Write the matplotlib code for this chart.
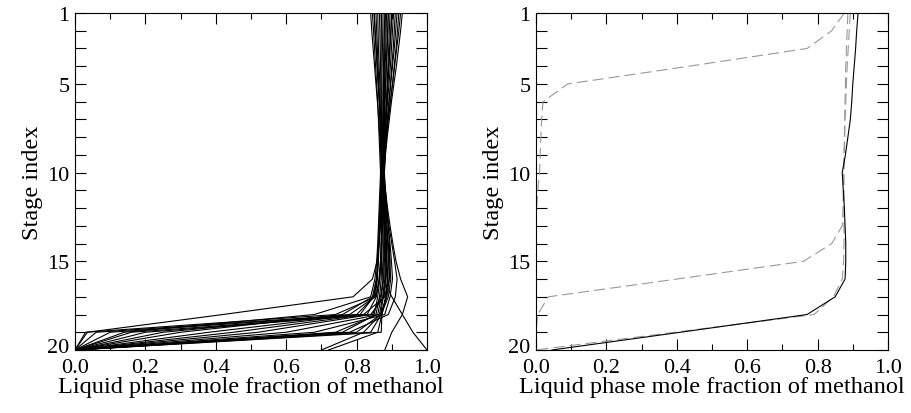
import matplotlib
matplotlib.use("Agg")
import matplotlib.pyplot as plt
from matplotlib.ticker import MultipleLocator, FixedLocator
from matplotlib.transforms import ScaledTranslation

plt.rcParams['font.family'] = ['Liberation Serif', 'DejaVu Serif']

stages = list(range(1, 21))

# ---- left panel: liquid methanol profiles (one list per profile, stages 1..20)
left_profiles = [
    [0.860, 0.861, 0.862, 0.864, 0.866, 0.867, 0.868, 0.869, 0.870, 0.871, 0.871, 0.870, 0.868, 0.864, 0.858, 0.845, 0.790, 0.420, 0.035, 0.000],
    [0.845, 0.848, 0.851, 0.854, 0.857, 0.860, 0.862, 0.864, 0.866, 0.868, 0.866, 0.864, 0.862, 0.860, 0.857, 0.852, 0.840, 0.680, 0.140, 0.000],
    [0.870, 0.870, 0.870, 0.870, 0.870, 0.870, 0.870, 0.870, 0.870, 0.870, 0.868, 0.866, 0.864, 0.862, 0.860, 0.856, 0.845, 0.760, 0.300, 0.000],
    [0.890, 0.888, 0.886, 0.884, 0.882, 0.880, 0.878, 0.876, 0.874, 0.872, 0.870, 0.868, 0.866, 0.864, 0.862, 0.858, 0.850, 0.800, 0.060, 0.000],
    [0.905, 0.902, 0.899, 0.896, 0.892, 0.888, 0.884, 0.880, 0.876, 0.872, 0.872, 0.872, 0.871, 0.870, 0.868, 0.864, 0.856, 0.830, 0.450, 0.000],
    [0.920, 0.916, 0.912, 0.907, 0.902, 0.896, 0.890, 0.885, 0.880, 0.876, 0.875, 0.874, 0.873, 0.872, 0.870, 0.866, 0.860, 0.850, 0.200, 0.000],
    [0.850, 0.852, 0.855, 0.858, 0.861, 0.864, 0.866, 0.868, 0.870, 0.872, 0.874, 0.876, 0.878, 0.879, 0.879, 0.877, 0.870, 0.860, 0.740, 0.000],
    [0.865, 0.866, 0.867, 0.868, 0.869, 0.870, 0.871, 0.872, 0.873, 0.874, 0.876, 0.878, 0.880, 0.882, 0.882, 0.880, 0.874, 0.865, 0.600, 0.000],
    [0.880, 0.879, 0.878, 0.877, 0.876, 0.875, 0.875, 0.875, 0.875, 0.875, 0.877, 0.879, 0.881, 0.883, 0.884, 0.882, 0.876, 0.868, 0.800, 0.000],
    [0.895, 0.893, 0.891, 0.889, 0.887, 0.885, 0.883, 0.881, 0.879, 0.877, 0.879, 0.881, 0.883, 0.885, 0.886, 0.884, 0.878, 0.840, 0.520, 0.000],
    [0.910, 0.907, 0.904, 0.900, 0.896, 0.892, 0.888, 0.884, 0.881, 0.878, 0.880, 0.883, 0.886, 0.889, 0.890, 0.888, 0.882, 0.872, 0.860, 0.720],
    [0.930, 0.925, 0.919, 0.913, 0.906, 0.899, 0.893, 0.887, 0.882, 0.879, 0.882, 0.886, 0.890, 0.893, 0.895, 0.893, 0.886, 0.868, 0.820, 0.700],
    [0.855, 0.857, 0.859, 0.861, 0.863, 0.865, 0.867, 0.869, 0.871, 0.873, 0.876, 0.880, 0.884, 0.888, 0.891, 0.893, 0.880, 0.820, 0.100, 0.000],
    [0.875, 0.875, 0.875, 0.875, 0.875, 0.875, 0.875, 0.875, 0.875, 0.875, 0.878, 0.882, 0.886, 0.890, 0.894, 0.897, 0.890, 0.870, 0.840, 0.000],
    [0.900, 0.897, 0.894, 0.891, 0.888, 0.885, 0.882, 0.879, 0.877, 0.876, 0.880, 0.885, 0.890, 0.895, 0.899, 0.902, 0.895, 0.880, 0.680, 0.000],
    [0.840, 0.843, 0.847, 0.851, 0.855, 0.859, 0.863, 0.866, 0.869, 0.871, 0.869, 0.867, 0.865, 0.863, 0.861, 0.859, 0.853, 0.780, 0.250, 0.000],
    [0.915, 0.911, 0.907, 0.902, 0.897, 0.892, 0.887, 0.882, 0.878, 0.875, 0.872, 0.869, 0.866, 0.863, 0.860, 0.857, 0.848, 0.810, 0.380, 0.000],
    [0.885, 0.884, 0.883, 0.881, 0.879, 0.877, 0.875, 0.873, 0.871, 0.869, 0.871, 0.874, 0.878, 0.882, 0.886, 0.889, 0.884, 0.872, 0.870, 0.000],
    [0.870, 0.872, 0.874, 0.876, 0.878, 0.879, 0.880, 0.880, 0.879, 0.877, 0.880, 0.885, 0.892, 0.900, 0.908, 0.915, 0.910, 0.890, 0.780, 0.000],
    [0.925, 0.920, 0.914, 0.908, 0.902, 0.896, 0.890, 0.885, 0.881, 0.878, 0.876, 0.874, 0.872, 0.870, 0.872, 0.875, 0.900, 0.930, 0.960, 1.000],
    [0.850, 0.853, 0.856, 0.859, 0.862, 0.865, 0.868, 0.871, 0.874, 0.877, 0.882, 0.888, 0.895, 0.903, 0.912, 0.925, 0.945, 0.930, 0.900, 0.880],
    [0.890, 0.889, 0.887, 0.885, 0.883, 0.881, 0.879, 0.877, 0.875, 0.874, 0.873, 0.872, 0.871, 0.870, 0.868, 0.864, 0.855, 0.740, 0.030, 0.000],
    [0.882, 0.881, 0.880, 0.879, 0.878, 0.877, 0.876, 0.875, 0.874, 0.873, 0.873, 0.873, 0.872, 0.872, 0.871, 0.870, 0.865, 0.855, 0.760, 0.000],
    [0.900, 0.898, 0.895, 0.892, 0.889, 0.886, 0.883, 0.880, 0.877, 0.874, 0.874, 0.875, 0.875, 0.876, 0.876, 0.875, 0.868, 0.845, 0.160, 0.000],
]

# ---- right panel
right_solid = [0.915, 0.911, 0.908, 0.904, 0.900, 0.897, 0.893, 0.886, 0.879, 0.870, 0.873, 0.876, 0.878, 0.880, 0.880, 0.878, 0.850, 0.770, 0.410, 0.045]
right_dashed = [
    [0.876, 0.840, 0.770, 0.435, 0.090, 0.020, 0.016, 0.014, 0.012, 0.010, 0.005, 0.002, 0.000, 0.000, 0.000, 0.000, 0.000, 0.000, 0.000, 0.000],
    [0.886, 0.884, 0.882, 0.880, 0.879, 0.878, 0.877, 0.876, 0.875, 0.873, 0.873, 0.872, 0.870, 0.840, 0.760, 0.400, 0.035, 0.005, 0.000, 0.000],
    [0.893, 0.890, 0.887, 0.884, 0.882, 0.880, 0.878, 0.877, 0.876, 0.875, 0.875, 0.875, 0.875, 0.875, 0.874, 0.870, 0.845, 0.790, 0.395, 0.000],
]

x_ticks = [0.0, 0.2, 0.4, 0.6, 0.8, 1.0]
x_ticklabels = ["0.0", "0.2", "0.4", "0.6", "0.8", "1.0"]
y_ticks = [1, 5, 10, 15, 20]
y_ticklabels = ["1", "5", "10", "15", "20"]
xlabel = "Liquid phase mole fraction of methanol"
ylabel = "Stage index"

fig = plt.figure(figsize=(9.12, 4.14), dpi=100)
axL = fig.add_axes([75/912, 63/414, 352/912, 337/414])
axR = fig.add_axes([536/912, 63/414, 352/912, 337/414])

for prof in left_profiles:
    axL.plot(prof, stages, color='black', lw=0.8)

for prof in right_dashed:
    axR.plot(prof, stages, color='#999999', lw=0.8, dashes=(10, 4.5))
axR.plot(right_solid, stages, color='black', lw=0.8)

tfs = 16
lfs = 17.5
for ax in (axL, axR):
    ax.set_xlim(0, 1)
    ax.set_ylim(20, 1)
    ax.xaxis.set_major_locator(FixedLocator(x_ticks))
    ax.set_xticklabels(x_ticklabels)
    ax.xaxis.set_minor_locator(MultipleLocator(0.1))
    ax.yaxis.set_major_locator(FixedLocator(y_ticks))
    ax.set_yticklabels(y_ticklabels)
    ax.yaxis.set_minor_locator(FixedLocator([s for s in stages if s not in y_ticks]))
    ax.tick_params(which='both', direction='in', top=True, right=True, labelsize=tfs, width=0.8)
    ax.tick_params(axis='x', which='major', length=8, pad=6)
    ax.tick_params(axis='x', which='minor', length=4.3)
    ax.tick_params(axis='y', which='both', length=8, pad=4)
    ax.set_xlabel(xlabel, fontsize=lfs, labelpad=-1)
    ax.set_ylabel(ylabel, fontsize=lfs, labelpad=3)
    for sp in ax.spines.values():
        sp.set_linewidth(0.8)
    # the bottom "20" label sits slightly above its tick, as in the original
    lab = ax.yaxis.get_major_ticks()[-1].label1
    lab.set_transform(lab.get_transform() + ScaledTranslation(0, 3.5 / 72, fig.dpi_scale_trans))

fig.savefig("out.png", dpi=100)
